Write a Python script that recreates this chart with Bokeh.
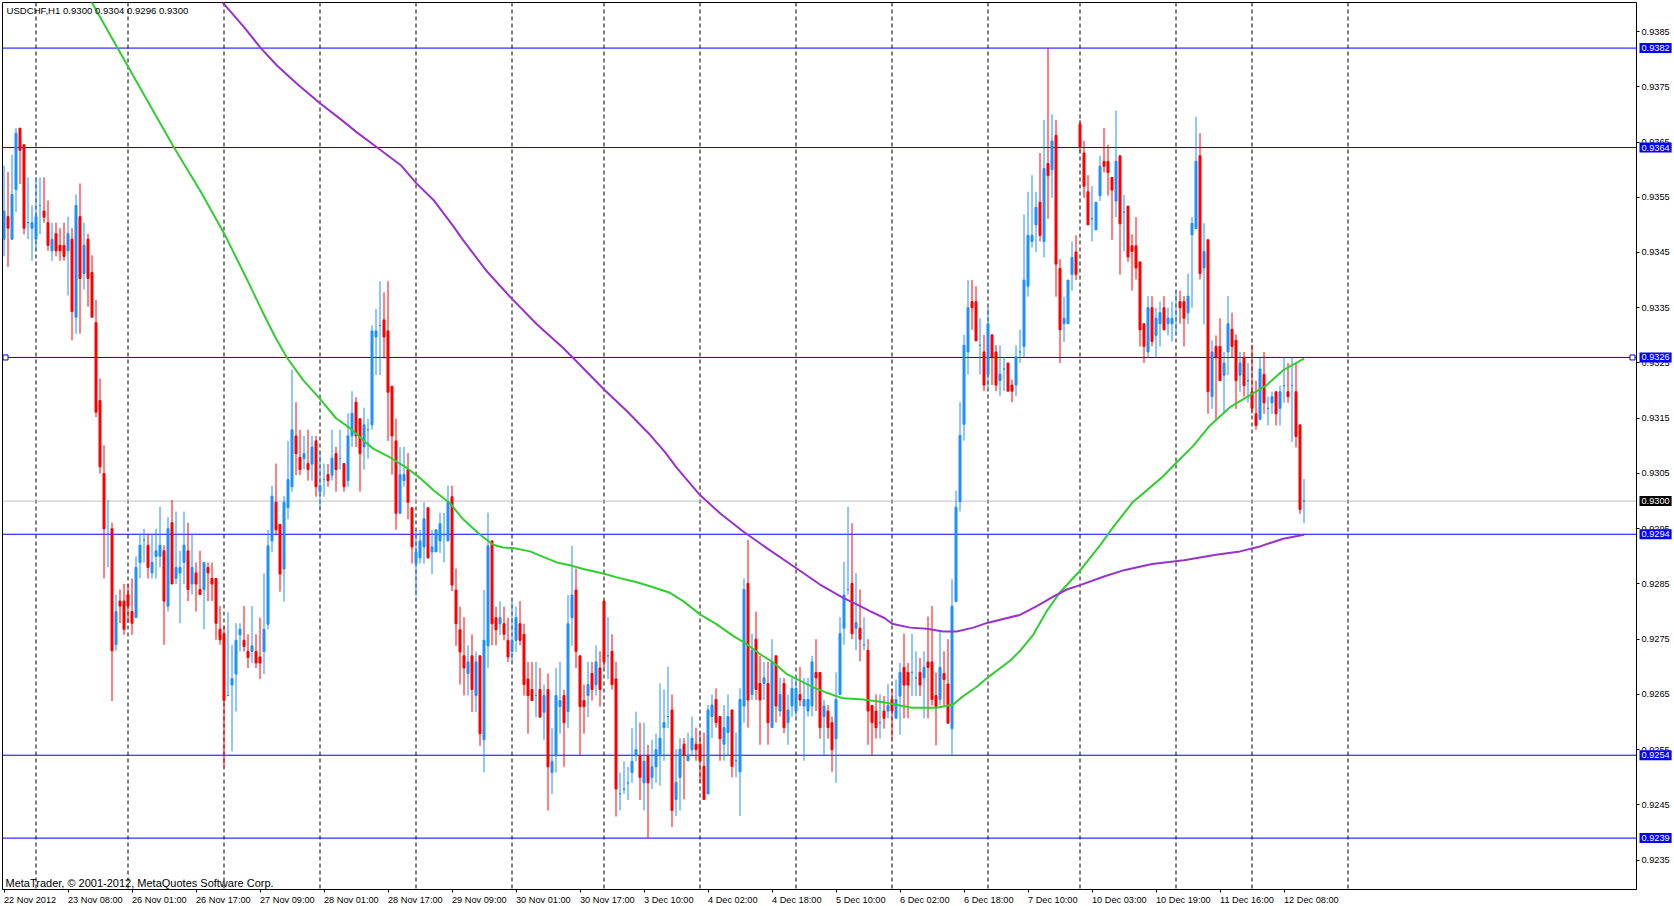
from bokeh.plotting import figure
from bokeh.models import Range1d, FixedTicker, PrintfTickFormatter, Span, Label, ColumnDataSource
from bokeh.embed import file_html
from bokeh.resources import INLINE

SYMBOL = "USDCHF,H1"

OPEN = [0.93474,0.93515,0.93474,0.93564,0.93675,0.93645,0.93504,0.93494,0.93474,0.93535,
0.93525,0.93504,0.93453,0.93484,0.93463,0.93463,0.93453,0.93474,0.93333,0.93515,
0.93412,0.93474,0.93414,0.93323,0.93182,0.93050,0.92941,0.92950,0.92740,0.92819,
0.92819,0.92831,0.92800,0.92789,0.92889,0.92930,0.92920,0.92870,0.92900,0.92900,
0.92910,0.92810,0.92961,0.92860,0.92870,0.92889,0.92910,0.92850,0.92870,0.92840,
0.92840,0.92880,0.92860,0.92860,0.92768,0.92760,0.92648,0.92667,0.92687,0.92758,
0.92748,0.92728,0.92728,0.92728,0.92718,0.92728,0.92777,0.92928,0.92998,0.92958,
0.92877,0.92988,0.93026,0.93118,0.93079,0.93077,0.93068,0.93067,0.93109,0.93017,
0.93039,0.93048,0.93047,0.93086,0.93077,0.93068,0.93037,0.93118,0.93179,0.93149,
0.93098,0.93129,0.93138,0.93297,0.93318,0.93328,0.93308,0.93208,0.93109,0.92978,
0.93037,0.93057,0.92988,0.92887,0.92897,0.92917,0.92988,0.92908,0.92908,0.92928,
0.92939,0.92928,0.93008,0.92839,0.92767,0.92720,0.92688,0.92720,0.92648,0.92720,
0.92568,0.92738,0.92928,0.92789,0.92778,0.92778,0.92748,0.92728,0.92748,0.92778,
0.92759,0.92678,0.92659,0.92648,0.92659,0.92618,0.92659,0.92509,0.92539,0.92628,
0.92648,0.92619,0.92789,0.92839,0.92720,0.92639,0.92648,0.92688,0.92668,0.92698,
0.92819,0.92720,0.92728,0.92678,0.92470,0.92479,0.92490,0.92509,0.92539,0.92539,
0.92490,0.92539,0.92500,0.92519,0.92542,0.92590,0.92610,0.92622,0.92460,0.92500,
0.92560,0.92530,0.92550,0.92560,0.92560,0.92520,0.92470,0.92610,0.92641,0.92610,
0.92560,0.92581,0.92622,0.92530,0.92510,0.92629,0.92851,0.92650,0.92750,0.92670,
0.92670,0.92670,0.92590,0.92720,0.92620,0.92670,0.92599,0.92629,0.92620,0.92650,
0.92629,0.92620,0.92629,0.92690,0.92690,0.92610,0.92620,0.92599,0.92570,0.92650,
0.92770,0.92840,0.92851,0.92770,0.92770,0.92740,0.92730,0.92630,0.92620,0.92599,
0.92620,0.92620,0.92641,0.92607,0.92647,0.92699,0.92690,0.92690,0.92680,0.92690,
0.92680,0.92709,0.92709,0.92648,0.92641,0.92688,0.92669,0.92588,0.92818,0.92999,
0.93139,0.93270,0.93361,0.93361,0.93282,0.93270,0.93229,0.93301,0.93270,0.93218,
0.93239,0.93250,0.93210,0.93210,0.93270,0.93280,0.93389,0.93470,0.93500,0.93541,
0.93470,0.93611,0.93600,0.93662,0.93421,0.93321,0.93321,0.93410,0.93451,0.93682,
0.93630,0.93560,0.93511,0.93491,0.93553,0.93615,0.93615,0.93586,0.93543,0.93625,
0.93523,0.93534,0.93462,0.93462,0.93433,0.93321,0.93270,0.93350,0.93300,0.93321,
0.93350,0.93321,0.93321,0.93341,0.93361,0.93361,0.93341,0.93482,0.93493,0.93625,
0.93422,0.93473,0.93189,0.93280,0.93280,0.93228,0.93270,0.93311,0.93291,0.93228,
0.93260,0.93218,0.93198,0.93158,0.93148,0.93229,0.93168,0.93178,0.93198,0.93168,
0.93209,0.93198,0.93209,0.93198,0.93138,0.93000]

HIGH = [0.93607,0.93596,0.93627,0.93675,0.93675,0.93645,0.93586,0.93535,0.93586,0.93586,
0.93586,0.93544,0.93504,0.93504,0.93494,0.93504,0.93515,0.93494,0.93555,0.93575,
0.93504,0.93484,0.93445,0.93364,0.93222,0.93101,0.93002,0.92961,0.92831,0.92840,
0.92850,0.92850,0.92860,0.92900,0.92941,0.92950,0.92941,0.92941,0.92950,0.92990,
0.92920,0.92971,0.93002,0.92981,0.92910,0.92981,0.92961,0.92941,0.92889,0.92910,
0.92889,0.92889,0.92889,0.92860,0.92810,0.92775,0.92799,0.92740,0.92779,0.92779,
0.92810,0.92759,0.92810,0.92759,0.92789,0.92869,0.92948,0.93028,0.93068,0.92958,
0.93009,0.93109,0.93238,0.93179,0.93129,0.93118,0.93129,0.93118,0.93118,0.93087,
0.93068,0.93067,0.93129,0.93098,0.93129,0.93068,0.93159,0.93199,0.93188,0.93149,
0.93169,0.93149,0.93318,0.93348,0.93398,0.93378,0.93398,0.93208,0.93149,0.93098,
0.93098,0.93087,0.92988,0.92948,0.92948,0.92998,0.92988,0.92948,0.92948,0.92979,
0.92979,0.93028,0.93028,0.92878,0.92809,0.92790,0.92739,0.92759,0.92728,0.92720,
0.92839,0.92979,0.92928,0.92809,0.92819,0.92809,0.92789,0.92819,0.92809,0.92819,
0.92778,0.92709,0.92709,0.92709,0.92698,0.92668,0.92688,0.92589,0.92698,0.92709,
0.92659,0.92830,0.92919,0.92878,0.92720,0.92668,0.92709,0.92709,0.92739,0.92728,
0.92819,0.92790,0.92759,0.92709,0.92509,0.92529,0.92519,0.92589,0.92619,0.92599,
0.92599,0.92559,0.92568,0.92579,0.92670,0.92659,0.92700,0.92650,0.92551,0.92571,
0.92571,0.92581,0.92610,0.92590,0.92581,0.92581,0.92631,0.92650,0.92661,0.92610,
0.92631,0.92650,0.92622,0.92581,0.92661,0.92860,0.92930,0.92760,0.92800,0.92720,
0.92709,0.92709,0.92750,0.92720,0.92680,0.92680,0.92650,0.92680,0.92680,0.92700,
0.92680,0.92680,0.92720,0.92750,0.92690,0.92640,0.92631,0.92610,0.92690,0.92790,
0.92890,0.92990,0.92960,0.92870,0.92840,0.92790,0.92750,0.92630,0.92650,0.92650,
0.92647,0.92669,0.92660,0.92677,0.92707,0.92760,0.92707,0.92760,0.92728,0.92716,
0.92728,0.92791,0.92810,0.92690,0.92767,0.92728,0.92750,0.92859,0.93019,0.93179,
0.93301,0.93400,0.93400,0.93389,0.93331,0.93301,0.93350,0.93301,0.93282,0.93282,
0.93261,0.93250,0.93220,0.93282,0.93310,0.93519,0.93560,0.93590,0.93560,0.93630,
0.93690,0.93820,0.93700,0.93690,0.93438,0.93370,0.93400,0.93470,0.93481,0.93690,
0.93652,0.93590,0.93570,0.93541,0.93625,0.93675,0.93645,0.93586,0.93707,0.93625,
0.93554,0.93534,0.93483,0.93514,0.93433,0.93321,0.93371,0.93371,0.93350,0.93361,
0.93371,0.93350,0.93361,0.93381,0.93381,0.93371,0.93412,0.93514,0.93696,0.93666,
0.93503,0.93473,0.93291,0.93300,0.93331,0.93270,0.93371,0.93341,0.93302,0.93270,
0.93270,0.93250,0.93283,0.93218,0.93260,0.93270,0.93189,0.93198,0.93198,0.93209,
0.93260,0.93250,0.93260,0.93250,0.93138,0.93040]

LOW = [0.93443,0.93424,0.93474,0.93523,0.93574,0.93483,0.93474,0.93435,0.93452,0.93483,
0.93504,0.93453,0.93435,0.93443,0.93435,0.93435,0.93372,0.93291,0.93303,0.93303,
0.93383,0.93352,0.93333,0.93152,0.93050,0.92860,0.92880,0.92638,0.92729,0.92779,
0.92758,0.92779,0.92758,0.92789,0.92860,0.92889,0.92860,0.92860,0.92860,0.92880,
0.92740,0.92800,0.92850,0.92850,0.92779,0.92850,0.92819,0.92831,0.92800,0.92831,
0.92768,0.92819,0.92819,0.92749,0.92740,0.92519,0.92648,0.92547,0.92619,0.92728,
0.92728,0.92698,0.92707,0.92698,0.92678,0.92687,0.92768,0.92908,0.92938,0.92836,
0.92818,0.92967,0.93017,0.93047,0.93047,0.93057,0.93037,0.93037,0.93008,0.92988,
0.93008,0.93026,0.93037,0.93017,0.93057,0.93017,0.93026,0.93098,0.93098,0.93017,
0.93057,0.93077,0.93129,0.93228,0.93228,0.93258,0.93109,0.93048,0.92948,0.92978,
0.93026,0.92967,0.92887,0.92828,0.92887,0.92887,0.92897,0.92868,0.92908,0.92906,
0.92889,0.92928,0.92837,0.92738,0.92668,0.92648,0.92648,0.92618,0.92618,0.92557,
0.92509,0.92698,0.92739,0.92739,0.92757,0.92748,0.92709,0.92709,0.92727,0.92739,
0.92648,0.92579,0.92639,0.92609,0.92609,0.92568,0.92440,0.92470,0.92509,0.92579,
0.92519,0.92589,0.92738,0.92698,0.92539,0.92579,0.92609,0.92639,0.92648,0.92628,
0.92698,0.92678,0.92659,0.92429,0.92440,0.92470,0.92459,0.92490,0.92529,0.92459,
0.92440,0.92390,0.92479,0.92490,0.92485,0.92530,0.92589,0.92410,0.92430,0.92440,
0.92460,0.92530,0.92540,0.92530,0.92490,0.92460,0.92470,0.92571,0.92590,0.92530,
0.92530,0.92540,0.92500,0.92500,0.92430,0.92599,0.92590,0.92640,0.92640,0.92559,
0.92640,0.92559,0.92590,0.92599,0.92610,0.92580,0.92559,0.92610,0.92610,0.92629,
0.92530,0.92610,0.92610,0.92620,0.92570,0.92540,0.92570,0.92510,0.92490,0.92650,
0.92740,0.92831,0.92750,0.92730,0.92710,0.92730,0.92559,0.92540,0.92570,0.92570,
0.92588,0.92607,0.92569,0.92607,0.92577,0.92607,0.92607,0.92647,0.92647,0.92647,
0.92607,0.92607,0.92630,0.92558,0.92630,0.92630,0.92598,0.92541,0.92818,0.92981,
0.93109,0.93229,0.93310,0.93290,0.93229,0.93199,0.93205,0.93210,0.93199,0.93190,
0.93199,0.93199,0.93179,0.93190,0.93250,0.93261,0.93370,0.93459,0.93451,0.93470,
0.93441,0.93511,0.93549,0.93370,0.93250,0.93288,0.93321,0.93381,0.93400,0.93630,
0.93549,0.93500,0.93470,0.93491,0.93543,0.93595,0.93553,0.93473,0.93514,0.93410,
0.93452,0.93433,0.93381,0.93401,0.93280,0.93250,0.93260,0.93280,0.93260,0.93280,
0.93310,0.93300,0.93289,0.93300,0.93321,0.93280,0.93321,0.93350,0.93493,0.93401,
0.93320,0.93158,0.93167,0.93148,0.93218,0.93158,0.93228,0.93260,0.93167,0.93198,
0.93189,0.93178,0.93158,0.93129,0.93148,0.93158,0.93137,0.93158,0.93137,0.93137,
0.93178,0.93178,0.93107,0.93097,0.92977,0.92960]

CLOSE = [0.93525,0.93494,0.93555,0.93666,0.93635,0.93494,0.93504,0.93504,0.93515,0.93535,
0.93514,0.93463,0.93474,0.93453,0.93453,0.93443,0.93484,0.93343,0.93535,0.93403,
0.93463,0.93403,0.93333,0.93161,0.93062,0.92950,0.92941,0.92729,0.92800,0.92810,
0.92768,0.92810,0.92779,0.92880,0.92920,0.92930,0.92880,0.92889,0.92910,0.92920,
0.92819,0.92950,0.92850,0.92880,0.92880,0.92920,0.92840,0.92880,0.92850,0.92831,
0.92889,0.92870,0.92850,0.92779,0.92749,0.92639,0.92648,0.92679,0.92748,0.92768,
0.92737,0.92717,0.92738,0.92707,0.92707,0.92768,0.92919,0.93009,0.92948,0.92868,
0.92998,0.93039,0.93129,0.93086,0.93057,0.93086,0.93057,0.93098,0.93026,0.93028,
0.93039,0.93037,0.93078,0.93057,0.93077,0.93026,0.93118,0.93159,0.93118,0.93086,
0.93138,0.93129,0.93308,0.93308,0.93318,0.93297,0.93197,0.93118,0.92978,0.93048,
0.93048,0.92998,0.92917,0.92908,0.92928,0.92968,0.92897,0.92917,0.92948,0.92959,
0.92939,0.92999,0.92848,0.92778,0.92727,0.92698,0.92709,0.92659,0.92709,0.92579,
0.92748,0.92919,0.92778,0.92767,0.92789,0.92759,0.92718,0.92748,0.92789,0.92748,
0.92668,0.92648,0.92639,0.92648,0.92609,0.92648,0.92519,0.92529,0.92648,0.92639,
0.92599,0.92778,0.92830,0.92728,0.92628,0.92628,0.92668,0.92659,0.92709,0.92659,
0.92709,0.92720,0.92668,0.92479,0.92470,0.92479,0.92490,0.92529,0.92550,0.92500,
0.92529,0.92490,0.92519,0.92550,0.92571,0.92599,0.92610,0.92440,0.92491,0.92551,
0.92540,0.92540,0.92571,0.92550,0.92530,0.92460,0.92622,0.92631,0.92599,0.92570,
0.92590,0.92610,0.92520,0.92530,0.92641,0.92840,0.92640,0.92730,0.92659,0.92640,
0.92680,0.92599,0.92709,0.92629,0.92650,0.92590,0.92622,0.92661,0.92661,0.92640,
0.92641,0.92641,0.92709,0.92680,0.92590,0.92629,0.92590,0.92550,0.92641,0.92760,
0.92830,0.92840,0.92760,0.92780,0.92750,0.92740,0.92620,0.92599,0.92590,0.92599,
0.92607,0.92630,0.92620,0.92641,0.92690,0.92667,0.92667,0.92690,0.92680,0.92667,
0.92699,0.92699,0.92641,0.92628,0.92699,0.92677,0.92598,0.92810,0.92989,0.93119,
0.93282,0.93350,0.93350,0.93290,0.93282,0.93210,0.93321,0.93261,0.93210,0.93230,
0.93239,0.93199,0.93199,0.93261,0.93270,0.93400,0.93481,0.93481,0.93532,0.93481,
0.93602,0.93589,0.93652,0.93429,0.93310,0.93331,0.93400,0.93441,0.93410,0.93641,
0.93570,0.93500,0.93511,0.93541,0.93606,0.93606,0.93595,0.93563,0.93615,0.93502,
0.93523,0.93442,0.93452,0.93422,0.93310,0.93280,0.93350,0.93289,0.93331,0.93341,
0.93310,0.93331,0.93331,0.93341,0.93350,0.93331,0.93371,0.93503,0.93615,0.93412,
0.93452,0.93198,0.93270,0.93260,0.93218,0.93250,0.93321,0.93280,0.93218,0.93250,
0.93209,0.93218,0.93168,0.93137,0.93239,0.93178,0.93168,0.93189,0.93158,0.93198,
0.93209,0.93189,0.93209,0.93117,0.92985,0.93000]

# moving averages (bar position, price)
GREEN_X = [21, 28, 36.7, 42.5, 49.2, 55, 59.4, 61.5, 64.8, 67.8, 70.7, 74.8, 79, 83, 86.5,
           89.8, 92.3, 96.5, 100.7, 104, 107.3, 111.5, 114.8, 119, 122.3, 124.8, 127.3, 131.5,
           134.8, 138.2, 141.5, 144.8, 149.8, 153.2, 158.2, 161.5, 166.5, 169.8, 174, 178.2,
           182.3, 185.7, 189, 192.3, 195.7, 199, 202.3, 205.7, 209.8, 214.8, 220, 224, 227,
           233.2, 237.3, 239.8, 243.2, 246, 251.5, 254, 257.3, 260.7, 264, 269, 274, 277.3,
           282.3, 284.8, 289.8, 293, 297.3, 301.5, 306.5, 311.5, 315.7, 319.8, 325]
GREEN_Y = [0.93915, 0.93825, 0.93714, 0.93640, 0.93560, 0.93485, 0.93421, 0.93390, 0.93340,
           0.93297, 0.93260, 0.93219, 0.93185, 0.93150, 0.93132, 0.93110, 0.93095, 0.93079,
           0.93060, 0.93042, 0.93020, 0.92996, 0.92967, 0.92939, 0.92921, 0.92916, 0.92915,
           0.92909, 0.92899, 0.92889, 0.92884, 0.92877, 0.92869, 0.92862, 0.92853, 0.92846,
           0.92834, 0.92819, 0.92795, 0.92777, 0.92756, 0.92741, 0.92723, 0.92708, 0.92687,
           0.92675, 0.92663, 0.92653, 0.92643, 0.92641, 0.92636, 0.92630, 0.92626, 0.92626,
           0.92632, 0.92647, 0.92664, 0.92681, 0.92711, 0.92729, 0.92758, 0.92801, 0.92835,
           0.92874, 0.92920, 0.92953, 0.92999, 0.93014, 0.93045, 0.93069, 0.93100, 0.93137,
           0.93170, 0.93192, 0.93210, 0.93237, 0.93258]

PURPLE_X = [54, 60, 64.2, 68.3, 73.3, 79, 84.2, 88.3, 93.3, 99.2, 103, 107.5, 112.5, 114.5,
            120.7, 127, 133.2, 139.8, 142.3, 150, 155.7, 161.5, 165.2, 168.2, 174, 179, 184.8,
            190.7, 198, 204, 209.8, 213.2, 216.5, 220.2, 222, 226.5, 230.7, 234.8, 238.2,
            242.3, 246, 254, 258.2, 262.3, 265.7, 269, 275.2, 280, 287, 295, 303, 309, 314,
            319.8, 325]
PURPLE_Y = [0.93908, 0.93858, 0.93820, 0.93788, 0.93755, 0.93720, 0.93691, 0.93667, 0.93640,
            0.93608, 0.93576, 0.93544, 0.93496, 0.93475, 0.93416, 0.93366, 0.93320, 0.93277,
            0.93259, 0.93202, 0.93163, 0.93120, 0.93089, 0.93060, 0.93011, 0.92978, 0.92945,
            0.92915, 0.92879, 0.92849, 0.92825, 0.92813, 0.92801, 0.92788, 0.92778, 0.92771,
            0.92769, 0.92764, 0.92764, 0.92771, 0.92780, 0.92794, 0.92810, 0.92827, 0.92840,
            0.92848, 0.92864, 0.92875, 0.92886, 0.92893, 0.92903, 0.92909, 0.92918, 0.92932,
            0.92939]

DATE_TICKS = [0, 16, 32, 48, 64, 80, 96, 112, 128, 144, 160, 176, 192, 208, 224, 240,
              256, 272, 288, 304, 320]
DATE_LABELS = ["22 Nov 2012", "23 Nov 08:00", "26 Nov 01:00", "26 Nov 17:00", "27 Nov 09:00",
               "28 Nov 01:00", "28 Nov 17:00", "29 Nov 09:00", "30 Nov 01:00", "30 Nov 17:00",
               "3 Dec 10:00", "4 Dec 02:00", "4 Dec 18:00", "5 Dec 10:00", "6 Dec 02:00",
               "6 Dec 18:00", "7 Dec 10:00", "10 Dec 03:00", "10 Dec 19:00", "11 Dec 16:00",
               "12 Dec 08:00"]
DAY_STARTS = [8, 31, 55, 79, 103, 127, 150, 174, 198, 222, 246, 269, 293, 312, 336]
PRICE_TICKS = [0.9235, 0.9245, 0.9255, 0.9265, 0.9275, 0.9285, 0.9295, 0.9305, 0.9315,
               0.9325, 0.9335, 0.9345, 0.9355, 0.9365, 0.9375, 0.9385]
LEVELS = [0.9382, 0.9364, 0.9326, 0.9294, 0.9254, 0.9239]
SELECTED_LEVEL = 0.9326
BID = 0.9300

# ---------- layout ----------
Y_TOP, Y_BOT = 0.939025, 0.922970
PX_PER_PIP = 5.525
FONT = "Liberation Sans"
FS = "9.2px"
BULL, BEAR = "#1E90FF", "#FF0000"
LEVEL_COLOR = "#0000FF"


def bx(px):
    return (px - 3.5) / 4.0


def py(px):
    return Y_TOP - (px - 2) / PX_PER_PIP / 10000.0


p = figure(frame_width=1634, frame_height=887,
           x_range=Range1d(bx(2), bx(1636)), y_range=Range1d(Y_BOT, Y_TOP),
           output_backend="svg", toolbar_location=None, y_axis_location="right",
           min_border_left=2, min_border_top=2, min_border_right=38, min_border_bottom=17,
           background_fill_color="white", border_fill_color="white",
           outline_line_color="black", outline_line_width=1)
p.xgrid.visible = False
p.ygrid.visible = False

xa = p.xaxis[0]
xa.ticker = FixedTicker(ticks=DATE_TICKS)
xa.major_label_overrides = dict(zip(DATE_TICKS, DATE_LABELS))
xa.major_label_orientation = -1e-9
xa.major_label_text_font = FONT
xa.major_label_text_font_size = FS
xa.major_label_text_color = "black"
xa.major_tick_out = 3
xa.major_tick_in = 0
xa.minor_tick_out = 0
xa.minor_tick_in = 0
xa.major_label_standoff = 7
xa.axis_line_color = "black"
xa.major_tick_line_color = "black"

ya = p.yaxis[0]
ya.ticker = FixedTicker(ticks=PRICE_TICKS)
ya.formatter = PrintfTickFormatter(format="%.4f")
ya.major_label_text_font = FONT
ya.major_label_text_font_size = FS
ya.major_label_text_color = "black"
ya.major_tick_out = 3
ya.major_tick_in = 0
ya.minor_tick_out = 0
ya.minor_tick_in = 0
ya.major_label_standoff = 2
ya.axis_line_color = "black"
ya.major_tick_line_color = "black"

# grid of day separators and horizontal levels
for d in DAY_STARTS:
    p.add_layout(Span(location=d, dimension="height", line_color="black", line_width=1,
                      line_dash="4 3", level="underlay"))
p.add_layout(Span(location=BID, dimension="width", line_color="#C0C0C0", line_width=1,
                  level="underlay"))
for lv in LEVELS:
    p.add_layout(Span(location=lv, dimension="width", line_color=LEVEL_COLOR, line_width=1,
                      level="underlay"))

# candles
idx = list(range(len(CLOSE)))
colors = [BULL if c >= o else BEAR for o, c in zip(OPEN, CLOSE)]
src = ColumnDataSource(dict(
    x=idx, h=HIGH, l=LOW,
    top=[max(o, c) for o, c in zip(OPEN, CLOSE)],
    bot=[min(o, c) for o, c in zip(OPEN, CLOSE)],
    color=colors))
p.segment(x0="x", y0="l", x1="x", y1="h", line_color="color", line_width=1, source=src)
p.vbar(x="x", width=0.5, top="top", bottom="bot", fill_color="color", line_color="color",
       line_width=1, source=src)

# moving averages
p.line(GREEN_X, GREEN_Y, line_color="#32CD32", line_width=2)
p.line(PURPLE_X, PURPLE_Y, line_color="#9932CC", line_width=2)

# selected-line handles
p.scatter([bx(5), bx(1632)], [SELECTED_LEVEL, SELECTED_LEVEL], marker="square", size=5,
          fill_color="white", line_color=LEVEL_COLOR, line_width=1)

# price boxes on the right scale (placed in the side panel so they are not clipped)
for lv in LEVELS:
    p.add_layout(Label(x=bx(1639), y=lv, text="%.4f" % lv, text_color="white",
                       text_font=FONT, text_font_size=FS, text_baseline="middle",
                       text_align="left", background_fill_color=LEVEL_COLOR, padding=2),
                 "right")
p.add_layout(Label(x=bx(1639), y=BID, text="%.4f" % CLOSE[-1], text_color="white",
                   text_font=FONT, text_font_size=FS, text_baseline="middle",
                   text_align="left", background_fill_color="black", padding=2), "right")

# header and footer texts
header = "%s  %.4f %.4f %.4f %.4f" % (SYMBOL, OPEN[-1], HIGH[-1], LOW[-1], CLOSE[-1])
p.add_layout(Label(x=bx(6), y=py(10), text=header, text_color="black", text_font=FONT,
                   text_font_size="9.6px", text_baseline="middle", text_align="left"))
p.add_layout(Label(x=bx(5), y=py(883), text="MetaTrader, \u00a9 2001-2012, MetaQuotes Software Corp.",
                   text_color="black", text_font=FONT, text_font_size="11px",
                   text_baseline="middle", text_align="left"))

html = file_html(p, INLINE, title="USDCHF,H1")
html = html.replace("<head>", "<head><style>html,body{margin:0;padding:0;overflow:hidden}</style>", 1)
open("out.html", "w").write(html)
